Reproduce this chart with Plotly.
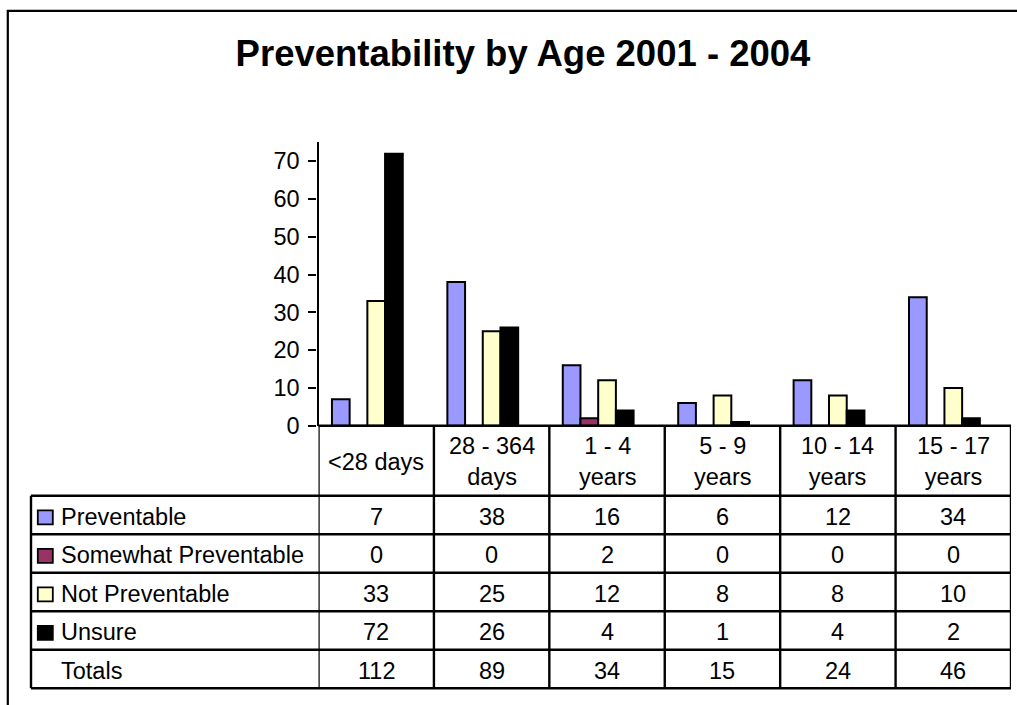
import plotly.graph_objects as go

# ---- data -------------------------------------------------------------
age_groups = ["<28 days", "28 - 364 days", "1 - 4 years", "5 - 9 years",
              "10 - 14 years", "15 - 17 years"]
header_labels = ["<28 days", "28 - 364<br>days", "1 - 4<br>years", "5 - 9<br>years",
                 "10 - 14<br>years", "15 - 17<br>years"]

preventable = [7, 38, 16, 6, 12, 34]
somewhat_preventable = [0, 0, 2, 0, 0, 0]
not_preventable = [33, 25, 12, 8, 8, 10]
unsure = [72, 26, 4, 1, 4, 2]
totals = [112, 89, 34, 15, 24, 46]

series_names = ["Preventable", "Somewhat Preventable", "Not Preventable", "Unsure", "Totals"]
series_values = [preventable, somewhat_preventable, not_preventable, unsure, totals]
series_colors = ["#9999FF", "#993366", "#FFFFCC", "#000000", "rgba(0,0,0,0)"]

y_ticks = [0, 10, 20, 30, 40, 50, 60, 70]

# ---- layout helpers (pixel -> paper) ---------------------------------
W, H = 1017, 705
H_DRAW = 692  # effective drawing height used for paper fractions
FONT = "Arial, 'Liberation Sans', sans-serif"


def px(x):
    return x / W


def py(y):
    return 1 - y / H_DRAW


plot_left, plot_right = 318.5, 1011.0
plot_top, plot_bottom = 142.3, 425.7
table_left = 31.0
header_bottom = 495.7
row_h = 38.5
row_edges = [header_bottom + i * row_h for i in range(6)]

fig = go.Figure()

for name, vals, col in zip(series_names, series_values, series_colors):
    visible_bar = name != "Totals"
    fig.add_trace(go.Bar(
        x=age_groups, y=vals, name=name,
        marker=dict(color=col,
                    line=dict(color="#000000", width=2 if visible_bar else 0)),
        hoverinfo="name+y" if visible_bar else "skip",
        showlegend=False,
    ))

shapes = []
annotations = []

# outer chart frame
shapes.append(dict(type="rect", xref="paper", yref="paper",
                   x0=px(7.8), x1=px(1030), y0=py(740), y1=py(10.8),
                   line=dict(color="#000000", width=2.2), fillcolor="rgba(0,0,0,0)",
                   layer="below"))

line_style = dict(color="#000000", width=2.4)

# category axis line / header top
shapes.append(dict(type="line", xref="paper", yref="paper",
                   x0=px(plot_left), x1=px(plot_right), y0=py(plot_bottom), y1=py(plot_bottom),
                   line=line_style))
# horizontal table rules
for ye in row_edges:
    shapes.append(dict(type="line", xref="paper", yref="paper",
                       x0=px(table_left), x1=px(plot_right), y0=py(ye), y1=py(ye),
                       line=line_style))
# vertical column rules at category boundaries
for i in range(len(age_groups) + 1):
    shapes.append(dict(type="line", xref="x", yref="paper",
                       x0=i - 0.5, x1=i - 0.5, y0=py(plot_bottom), y1=py(row_edges[-1]),
                       line=line_style))
# left edge of the label column
shapes.append(dict(type="line", xref="paper", yref="paper",
                   x0=px(table_left), x1=px(table_left), y0=py(header_bottom), y1=py(row_edges[-1]),
                   line=line_style))

text_font = dict(family=FONT, size=23.5, color="#000000")

# header row: category names
for cat, lab in zip(age_groups, header_labels):
    annotations.append(dict(x=cat, xref="x", y=py((plot_bottom + header_bottom) / 2 + 1),
                            yref="paper", text=lab, showarrow=False,
                            xanchor="center", yanchor="middle", font=text_font))

# data rows
for r, (name, vals, col) in enumerate(zip(series_names, series_values, series_colors)):
    yc = (row_edges[r] + row_edges[r + 1]) / 2 + 2
    if name != "Totals":
        shapes.append(dict(type="rect", xref="paper", yref="paper",
                           x0=px(37.8), x1=px(52.8), y0=py(yc + 7.5), y1=py(yc - 6.5),
                           fillcolor=col, line=dict(color="#000000", width=1.8)))
    annotations.append(dict(x=px(58.5), xref="paper", y=py(yc), yref="paper",
                            text=name, showarrow=False, xanchor="left", yanchor="middle",
                            font=text_font))
    for cat, v in zip(age_groups, vals):
        annotations.append(dict(x=cat, xref="x", y=py(yc), yref="paper",
                                text=str(v), showarrow=False, xanchor="center",
                                yanchor="middle", font=text_font))

fig.update_layout(
    width=W, height=H,
    margin=dict(l=0, r=0, t=0, b=0),
    paper_bgcolor="#FFFFFF", plot_bgcolor="#FFFFFF",
    barmode="group", bargap=0.233, bargroupgap=0,
    title=dict(text="<b>Preventability by Age 2001 - 2004</b>",
               x=px(523), xanchor="center", y=py(52), yanchor="middle",
               font=dict(family=FONT, size=36.5, color="#000000")),
    xaxis=dict(domain=[px(plot_left), px(plot_right)], range=[-0.5, 5.5],
               showticklabels=False, ticks="", showgrid=False, zeroline=False,
               showline=False, fixedrange=True),
    yaxis=dict(domain=[py(plot_bottom), py(plot_top)], range=[0, 75],
               tickvals=y_ticks, ticks="outside", ticklen=8, tickwidth=2,
               tickcolor="#000000", showline=True, linecolor="#000000", linewidth=2.2,
               showgrid=False, zeroline=False, ticklabelstandoff=4,
               tickfont=dict(family=FONT, size=23.5, color="#000000"),
               fixedrange=True),
    shapes=shapes,
    annotations=annotations,
    showlegend=False,
)

fig.write_html("out.html")
